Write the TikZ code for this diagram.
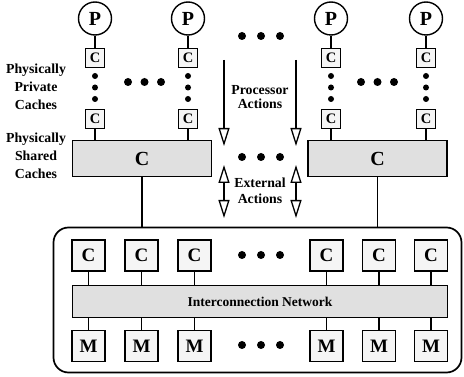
\documentclass[tikz,border=0pt]{standalone}
\usepackage{fontspec}
\setmainfont{Liberation Serif}
\usetikzlibrary{arrows.meta}

\begin{document}
\begin{tikzpicture}[x=1pt,y=-1pt,
    proc/.style={circle,draw,line width=1.4pt,minimum size=33pt,inner sep=0pt,font=\bfseries\fontsize{20}{20}\selectfont},
    pcache/.style={draw,line width=1.4pt,fill=black!4,minimum size=19pt,inner sep=0pt,font=\bfseries\fontsize{14.5}{14.5}\selectfont},
    scache/.style={draw,line width=1.7pt,fill=black!12,minimum width=139pt,minimum height=36pt,inner sep=0pt,font=\bfseries\fontsize{20}{20}\selectfont},
    unit/.style={draw,line width=1.7pt,fill=black!4,minimum width=33pt,minimum height=31pt,inner sep=0pt,font=\bfseries\fontsize{19}{19}\selectfont},
    lab/.style={align=center,font=\bfseries\fontsize{13.8}{18}\selectfont},
    wire/.style={line width=1.4pt},
    act/.style={line width=1.3pt,-{Triangle[open,length=18pt,width=11pt]}},
    bothact/.style={line width=1.3pt,{Triangle[open,length=18pt,width=11pt]}-{Triangle[open,length=18pt,width=11pt]}}]
    \useasboundingbox (0,0) rectangle (464,377);
    % processors with their private caches
    \foreach \x/\n in {95/a,188/b,331/c,426/d}{
        \node[proc] (p\n) at (\x,18.5) {P};
        \node[pcache] (t\n) at (\x,58) {C};
        \node[pcache] (l\n) at (\x,119) {C};
        \draw[wire] (p\n) -- (t\n);
        \foreach \y in {76,87.5,99} \fill (\x,\y) circle (3pt);
    }
    \foreach \x in {128,144.5,161,361,377.5,394} \fill (\x,82) circle (4pt);
    % shared caches
    \node[scache] (sl) at (142,158.5) {C};
    \node[scache] (sr) at (377.5,158.5) {C};
    \draw[wire] (la.south) -- (la.south |- sl.north);
    \draw[wire] (lb.south) -- (lb.south |- sl.north);
    \draw[wire] (lc.south) -- (lc.south |- sr.north);
    \draw[wire] (ld.south) -- (ld.south |- sr.north);
    % labels
    \node[lab] (priv) at (36,87) {Physically\\Private\\Caches};
    \node[lab] (shar) at (36,156) {Physically\\Shared\\Caches};
    \node[lab,font=\bfseries\fontsize{13.8}{14}\selectfont] (pact) at (260,97) {Processor\\Actions};
    \node[lab,font=\bfseries\fontsize{13.8}{16}\selectfont] (eact) at (260,191) {External\\Actions};
    % actions
    \coordinate (d1) at (224,60);  \coordinate (d2) at (224,146);
    \coordinate (d3) at (296,60);  \coordinate (d4) at (296,146);
    \coordinate (e1) at (224,165); \coordinate (e2) at (224,218);
    \coordinate (e3) at (296,165); \coordinate (e4) at (296,218);
    \draw[act] (d1) -- (d2);
    \draw[act] (d3) -- (d4);
    \draw[bothact] (e1) -- (e2);
    \draw[bothact] (e3) -- (e4);
    % memory system
    \node[draw,line width=1.7pt,rounded corners=15pt,minimum width=408pt,minimum height=145pt] (sys) at (257.5,300) {};
    \draw[wire] (sl.south) -- (sl.south |- sys.north);
    \draw[wire] (sr.south) -- (sr.south |- sys.north);
    \node[scache,minimum width=375pt,minimum height=32pt,font=\bfseries\fontsize{13.5}{13.5}\selectfont] (net) at (260,301.5) {Interconnection Network};
    \foreach \x [count=\i] in {88.5,141.5,194.5,326.5,379,431}{
        \node[unit] (c\i) at (\x,255.5) {C};
        \node[unit] (m\i) at (\x,346) {M};
        \draw[wire] (c\i) -- (c\i |- net.north);
        \draw[wire] (net.south -| m\i) -- (m\i);
    }
    \foreach \y in {36,157,255,345}
        \foreach \x in {242,261,280} \fill (\x,\y) circle (4pt);
\end{tikzpicture}
\end{document}
